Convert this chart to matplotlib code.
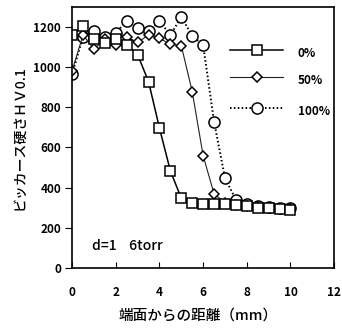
import matplotlib
matplotlib.use('Agg')
import matplotlib.pyplot as plt

plt.rcParams['font.family'] = ['Noto Sans CJK JP', 'DejaVu Sans']

# distance from the end face (mm)
dist = [0, 0.5, 1.0, 1.5, 2.0, 2.5, 3.0, 3.5, 4.0, 4.5, 5.0,
        5.5, 6.0, 6.5, 7.0, 7.5, 8.0, 8.5, 9.0, 9.5, 10.0]

# Vickers hardness HV0.1 for each series
hv_0 = [1160, 1205, 1140, 1120, 1140, 1110, 1062, 928, 696, 483, 347,
        322, 317, 317, 317, 312, 307, 300, 300, 295, 290]
hv_50 = [983, 1160, 1090, 1140, 1110, 1150, 1124, 1160, 1144, 1114, 1107,
         878, 559, 369, 325, 315, 310, 305, 300, 295, 295]
hv_100 = [966, 1152, 1180, 1150, 1170, 1232, 1197, 1178, 1230, 1160, 1250,
          1157, 1110, 729, 447, 340, 320, 310, 305, 300, 300]

labels = ['0%', '50%', '100%']
xticks = [0, 2, 4, 6, 8, 10, 12]
yticks = [0, 200, 400, 600, 800, 1000, 1200]

fig = plt.figure(figsize=(3.42, 3.32), dpi=100)
ax = fig.add_axes([0.211, 0.193, 0.766, 0.786])

mk = dict(markerfacecolor='white', markeredgecolor='black', markeredgewidth=1.1)
s100 = dict(color='black', lw=1.4, ls=(0, (0.8, 1.2)), marker='o', ms=8, **mk)
s50 = dict(color='#222222', lw=0.8, ls='-', marker='D', ms=5, **mk)
s0 = dict(color='black', lw=1.1, ls='-', marker='s', ms=7.5, **mk)

ax.plot(dist, hv_100, **s100)
ax.plot(dist, hv_50, **s50)
ax.plot(dist, hv_0, **s0)

# legend drawn by hand: short line, marker in the middle, label on the right
for yy, st, lab in zip([0.835, 0.732, 0.613], [s0, s50, s100], labels):
    ax.plot([0.603, 0.706, 0.805], [yy, yy, yy], transform=ax.transAxes,
            markevery=[1], clip_on=False, **st)
    ax.text(0.862, yy - 0.012, lab, transform=ax.transAxes, fontsize=8.5,
            fontweight='bold', va='center', ha='left', clip_on=False)

ax.text(0.93, 110, 'd=1    6torr', fontsize=10, fontweight='medium',
        va='center', ha='left')

ax.set_xlim(0, 12)
ax.set_ylim(0, 1300)
ax.set_xticks(xticks)
ax.set_yticks(yticks)
ax.tick_params(axis='x', direction='in', length=4, pad=13, labelsize=8.5)
ax.tick_params(axis='y', direction='out', length=5, pad=3, labelsize=8.5)
for t in ax.get_xticklabels() + ax.get_yticklabels():
    t.set_fontweight('bold')
for sp in ax.spines.values():
    sp.set_linewidth(1.2)

ax.set_xlabel('端面からの距離（mm）', fontsize=10.5, fontweight='medium')
ax.xaxis.set_label_coords(0.48, -0.155)
ax.set_ylabel('ビッカース硬さＨＶ0.1', fontsize=10, fontweight='medium',
              labelpad=5)

fig.savefig('out.png', dpi=100)
